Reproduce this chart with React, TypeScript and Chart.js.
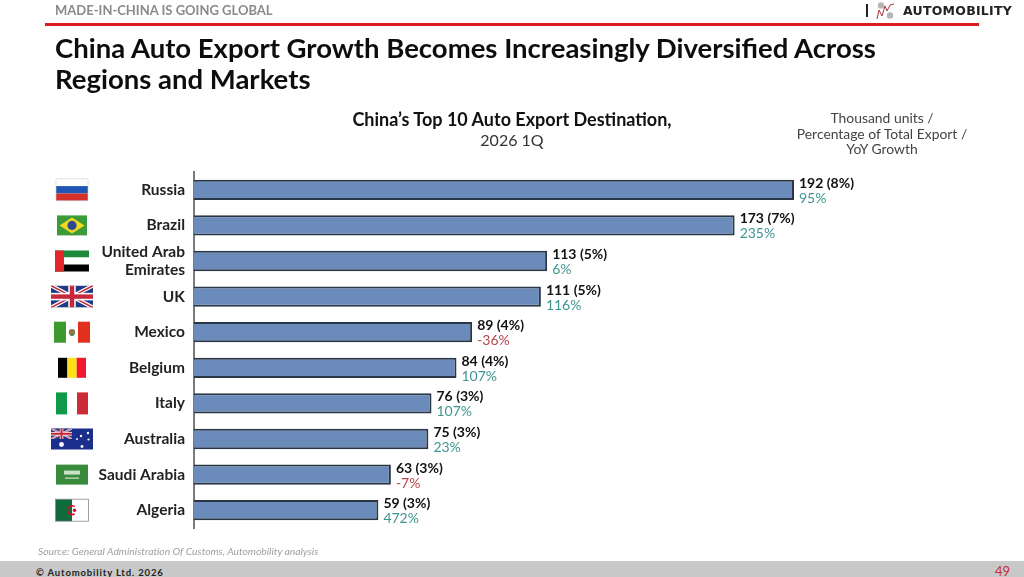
import React, { useEffect, useRef } from "react";
import { Chart, registerables } from "chart.js";

Chart.register(...registerables);

const categories: (string | string[])[] = ["Russia", "Brazil", ["United Arab", "Emirates"], "UK", "Mexico", "Belgium", "Italy", "Australia", "Saudi Arabia", "Algeria"];
const units = [192, 173, 113, 111, 89, 84, 76, 75, 63, 59];
const shares = [8, 7, 5, 5, 4, 4, 3, 3, 3, 3];
const yoy = [95, 235, 6, 116, -36, 107, 107, 23, -7, 472];
const flagCodes = ["ru", "br", "ae", "gb", "mx", "be", "it", "au", "sa", "dz"];

const FONT = "Lato, 'Open Sans', sans-serif";

function drawUnion(c: CanvasRenderingContext2D, x: number, y: number, w: number, h: number) {
  c.save();
  c.beginPath();
  c.rect(x, y, w, h);
  c.clip();
  c.fillStyle = "#1f3a85";
  c.fillRect(x, y, w, h);
  c.lineWidth = h * 0.18;
  c.strokeStyle = "#ffffff";
  c.beginPath();
  c.moveTo(x, y); c.lineTo(x + w, y + h);
  c.moveTo(x + w, y); c.lineTo(x, y + h);
  c.stroke();
  c.lineWidth = h * 0.07;
  c.strokeStyle = "#c8283c";
  c.stroke();
  c.fillStyle = "#ffffff";
  c.fillRect(x + w / 2 - h * 0.17, y, h * 0.34, h);
  c.fillRect(x, y + h * 0.33, w, h * 0.34);
  c.fillStyle = "#c8283c";
  c.fillRect(x + w / 2 - h * 0.1, y, h * 0.2, h);
  c.fillRect(x, y + h * 0.4, w, h * 0.2);
  c.restore();
}

function drawFlag(c: CanvasRenderingContext2D, code: string, cx: number, cy: number) {
  const R = (x: number, y: number, w: number, h: number, f: string) => { c.fillStyle = f; c.fillRect(x, y, w, h); };
  if (code === "ru") {
    const x = cx - 16, y = cy - 11;
    R(x, y, 32, 7.3, "#ffffff"); R(x, y + 7.3, 32, 7.4, "#1f55b5"); R(x, y + 14.7, 32, 7.3, "#d5312b");
    c.strokeStyle = "#c9d4dc"; c.lineWidth = 0.6; c.strokeRect(x, y, 32, 22);
  } else if (code === "br") {
    const x = cx - 15, y = cy - 10;
    R(x, y, 30, 20, "#3d9a38");
    c.fillStyle = "#f2d920"; c.beginPath();
    c.moveTo(cx - 12.5, cy); c.lineTo(cx, cy - 8); c.lineTo(cx + 12.5, cy); c.lineTo(cx, cy + 8); c.closePath(); c.fill();
    c.fillStyle = "#2a4a94"; c.beginPath(); c.arc(cx, cy, 4.6, 0, Math.PI * 2); c.fill();
  } else if (code === "ae") {
    const x = cx - 17, y = cy - 10.5;
    R(x, y, 34, 7, "#1f8a3c"); R(x, y + 7, 34, 7, "#ffffff"); R(x, y + 14, 34, 7, "#000000"); R(x, y, 9, 21, "#e3262b");
  } else if (code === "gb") {
    drawUnion(c, cx - 21, cy - 11, 42, 22);
  } else if (code === "mx") {
    const x = cx - 18, y = cy - 10.5;
    R(x, y, 12, 21, "#3d9a2f"); R(x + 12, y, 12, 21, "#ffffff"); R(x + 24, y, 12, 21, "#e2301f");
    c.fillStyle = "#8a7a4a"; c.beginPath(); c.arc(cx, cy, 3.2, 0, Math.PI * 2); c.fill();
    c.fillStyle = "#4f8a4a"; c.beginPath(); c.arc(cx, cy + 2, 2, 0, Math.PI); c.fill();
  } else if (code === "be") {
    const x = cx - 14, y = cy - 10;
    R(x, y, 9.4, 20, "#000000"); R(x + 9.4, y, 9.3, 20, "#fde01a"); R(x + 18.7, y, 9.3, 20, "#f31830");
  } else if (code === "it") {
    const x = cx - 16, y = cy - 11;
    R(x, y, 11, 22, "#0f9a48"); R(x + 11, y, 10, 22, "#ffffff"); R(x + 21, y, 11, 22, "#cd2b37");
  } else if (code === "au") {
    const x = cx - 21, y = cy - 10.5;
    R(x, y, 42, 21, "#1a2f8c");
    drawUnion(c, x, y, 21, 10.5);
    c.fillStyle = "#ffffff";
    [[cx - 10.5, cy + 5.5, 2.4], [cx + 9, cy - 3, 1.2], [cx + 16, cy - 6, 1.2], [cx + 10, cy + 7.5, 1.4], [cx + 16.5, cy + 0.5, 1.1], [cx + 5, cy, 0.9]].forEach(([a, b, r]) => {
      c.beginPath(); c.arc(a, b, r, 0, Math.PI * 2); c.fill();
    });
  } else if (code === "sa") {
    const x = cx - 16, y = cy - 10;
    R(x, y, 32, 20, "#3a8a3c");
    R(cx - 8, cy - 4, 16, 4, "#c9e0c6");
    R(cx - 7, cy + 3, 14, 1, "#eef5ec");
  } else if (code === "dz") {
    const x = cx - 16.5, y = cy - 11;
    R(x, y, 16.5, 22, "#0f6a3c"); R(cx, y, 16.5, 22, "#ffffff");
    c.strokeStyle = "#8a8a8a"; c.lineWidth = 0.8; c.strokeRect(x, y, 33, 22);
    c.strokeStyle = "#d2102c"; c.lineWidth = 1.6;
    c.beginPath(); c.arc(cx, cy, 4.4, Math.PI * 0.3, Math.PI * 1.7); c.stroke();
    c.fillStyle = "#d2102c"; c.beginPath(); c.arc(cx + 2.5, cy, 1.7, 0, Math.PI * 2); c.fill();
  }
}

const decorations = {
  id: "decorations",
  afterDatasetsDraw(chart: any) {
    const c = chart.ctx as CanvasRenderingContext2D;
    const meta = chart.getDatasetMeta(0);
    c.save();
    meta.data.forEach((bar: any, i: number) => {
      drawFlag(c, flagCodes[i], 72, bar.y);
      const x = bar.x + 5;
      c.textAlign = "left";
      c.textBaseline = "middle";
      c.fillStyle = "#111111";
      c.font = `bold 14px ${FONT}`;
      c.fillText(`${units[i]} (${shares[i]}%)`, x, bar.y - 6.5);
      c.fillStyle = yoy[i] < 0 ? "#b8434a" : "#3f9490";
      c.font = `14px ${FONT}`;
      c.fillText(`${yoy[i]}%`, x, bar.y + 8.5);
    });
    c.restore();
  },
};

const abs = (s: React.CSSProperties): React.CSSProperties => ({ position: "absolute", whiteSpace: "nowrap", fontFamily: FONT, ...s });

export default function App() {
  const ref = useRef<HTMLCanvasElement>(null);
  useEffect(() => {
    const chart = new Chart(ref.current!, {
      type: "bar",
      data: {
        labels: categories as any,
        datasets: [{
          data: units,
          backgroundColor: "#6b8cba",
          borderColor: "#2a3644",
          borderWidth: 2,
          barPercentage: 0.57,
          categoryPercentage: 1,
        }],
      },
      plugins: [decorations],
      options: {
        indexAxis: "y",
        animation: false,
        responsive: false,
        layout: { padding: { top: 172, bottom: 49, right: 30, left: 0 } },
        plugins: { legend: { display: false }, tooltip: { enabled: false }, title: { display: false } },
        scales: {
          x: { display: false, min: 0, max: 256 },
          y: {
            afterFit: (s: any) => { s.width = 194; },
            grid: { display: false, drawTicks: false },
            border: { display: true, color: "#7a7a7a", width: 2 },
            ticks: { autoSkip: false, color: "#222222", padding: 9, font: { family: FONT, size: 15.5, weight: "bold", lineHeight: 1.1 } },
          },
        },
      },
    } as any);
    return () => chart.destroy();
  }, []);

  return (
    <div style={{ position: "absolute", left: 0, top: 0, width: 1024, height: 577, background: "#fff", overflow: "hidden" }}>
      <canvas ref={ref} width={1024} height={577} style={{ position: "absolute", left: 0, top: 0, width: 1024, height: 577 }} />
      <div style={abs({ left: 55, top: 2, fontSize: 13, fontWeight: 700, color: "#8a8a8a", lineHeight: "17px" })}>MADE-IN-CHINA IS GOING GLOBAL</div>
      <div style={{ position: "absolute", left: 45, top: 22.5, width: 934, height: 3, background: "#d81f26" }} />
      <div style={{ position: "absolute", left: 866, top: 4, width: 2, height: 13, background: "#222" }} />
      <svg style={{ position: "absolute", left: 876, top: 2, width: 20, height: 18 }} viewBox="0 0 20 18">
        <circle cx="5" cy="3.5" r="3.2" fill="#b5b5b5" />
        <circle cx="14" cy="13.5" r="3.2" fill="#b5b5b5" />
        <path d="M1 17 L3 8 L6 14 L9 4 L11 9 L14 3 L18 2" fill="none" stroke="#a8323a" strokeWidth="1" />
      </svg>
      <div style={abs({ left: 903, top: 2, fontSize: 12.5, fontWeight: 700, color: "#222", letterSpacing: 0.25, lineHeight: "17px", fontFamily: "'DejaVu Sans', sans-serif" })}>AUTOMOBILITY</div>
      <div style={abs({ left: 55, top: 32, fontSize: 27.5, fontWeight: 700, color: "#0d0d0d", lineHeight: "31px" })}>
        China Auto Export Growth Becomes Increasingly Diversified Across<br />Regions and Markets
      </div>
      <div style={abs({ left: 262, width: 500, top: 109, textAlign: "center", fontSize: 18, fontWeight: 700, color: "#111", lineHeight: "20px" })}>China’s Top 10 Auto Export Destination,</div>
      <div style={abs({ left: 262, width: 500, top: 130, textAlign: "center", fontSize: 16, color: "#333", lineHeight: "20px" })}>2026 1Q</div>
      <div style={abs({ left: 782, width: 200, top: 110, textAlign: "center", fontSize: 13.9, color: "#444", lineHeight: "15.5px" })}>
        Thousand units /<br />Percentage of Total Export /<br />YoY Growth
      </div>
      <div style={abs({ left: 38, top: 545, fontSize: 10.3, fontStyle: "italic", color: "#a0a0a0", lineHeight: "12px" })}>Source: General Administration Of Customs, Automobility analysis</div>
      <div style={{ position: "absolute", left: 0, top: 561, width: 1024, height: 16, background: "#c8c8c8" }} />
      <div style={abs({ left: 36, top: 567, fontSize: 9.5, fontWeight: 700, color: "#222", letterSpacing: 0.85, lineHeight: "12px" })}>© Automobility Ltd. 2026</div>
      <div style={abs({ left: 995, top: 564, fontSize: 13, color: "#c2303a", lineHeight: "15px" })}>49</div>
    </div>
  );
}
